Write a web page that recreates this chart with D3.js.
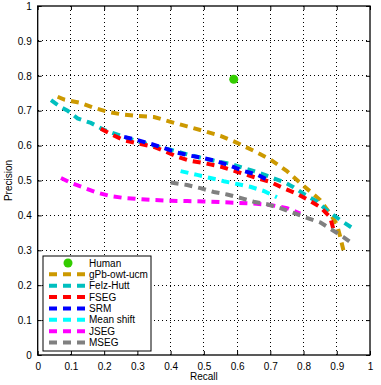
<!DOCTYPE html>
<html><head><meta charset="utf-8">
<script src="https://cdn.jsdelivr.net/npm/d3@7"></script>
<style>
body{margin:0;background:#fff;}
text{font-family:"Liberation Sans",Arial,sans-serif;}
</style></head>
<body><svg id="c" width="381" height="385"></svg>
<script>
const ticks = [0,0.1,0.2,0.3,0.4,0.5,0.6,0.7,0.8,0.9,1];
const tickLabels = ["0","0.1","0.2","0.3","0.4","0.5","0.6","0.7","0.8","0.9","1"];

const humanR = [0.59];
const humanP = [0.79];

const gpbR = [0.06,0.08,0.10,0.13,0.17,0.21,0.25,0.30,0.35,0.40,0.45,0.50,0.55,0.60,0.65,0.70,0.75,0.80,0.85,0.88,0.90,0.91,0.92];
const gpbP = [0.74,0.732,0.728,0.722,0.708,0.697,0.69,0.685,0.682,0.668,0.655,0.642,0.628,0.608,0.585,0.56,0.527,0.485,0.444,0.405,0.375,0.34,0.30];

const felzR = [0.04,0.07,0.09,0.12,0.16,0.20,0.25,0.30,0.35,0.40,0.45,0.50,0.55,0.58,0.62,0.66,0.70,0.74,0.77,0.80,0.84,0.87,0.91,0.95];
const felzP = [0.73,0.71,0.70,0.678,0.665,0.645,0.628,0.612,0.60,0.588,0.575,0.563,0.553,0.548,0.536,0.524,0.51,0.496,0.481,0.462,0.44,0.415,0.387,0.362];

const fsegR = [0.19,0.22,0.26,0.30,0.35,0.38,0.42,0.46,0.50,0.55,0.60,0.65,0.70,0.74,0.78,0.82,0.85,0.88,0.89];
const fsegP = [0.648,0.633,0.615,0.607,0.596,0.585,0.568,0.556,0.55,0.54,0.525,0.51,0.496,0.478,0.462,0.441,0.424,0.395,0.36];

const srmR = [0.26,0.30,0.34,0.38,0.42,0.46,0.50,0.54,0.58,0.62,0.66,0.70];
const srmP = [0.625,0.616,0.605,0.593,0.58,0.571,0.564,0.555,0.542,0.527,0.517,0.498];

const msR = [0.43,0.48,0.52,0.56,0.60,0.64,0.68,0.72];
const msP = [0.527,0.516,0.507,0.498,0.49,0.482,0.47,0.452];

const jsegR = [0.07,0.10,0.14,0.18,0.22,0.26,0.30,0.35,0.40,0.45,0.50,0.55,0.60,0.65,0.70,0.75,0.79];
const jsegP = [0.507,0.493,0.479,0.465,0.455,0.45,0.447,0.444,0.442,0.441,0.44,0.438,0.436,0.434,0.43,0.421,0.405];

const msegR = [0.40,0.45,0.49,0.53,0.57,0.61,0.65,0.69,0.73,0.77,0.81,0.85,0.88,0.92,0.95];
const msegP = [0.494,0.487,0.478,0.467,0.46,0.45,0.439,0.432,0.421,0.407,0.393,0.38,0.362,0.338,0.317];

const seriesNames = ["gPb-owt-ucm","Felz-Hutt","FSEG","SRM","Mean shift","JSEG","MSEG"];
const seriesColors = ["#cc9900","#00bfbf","#ff0000","#0000ff","#00ffff","#ff00ff","#808080"];
const seriesR = [gpbR,felzR,fsegR,srmR,msR,jsegR,msegR];
const seriesP = [gpbP,felzP,fsegP,srmP,msP,jsegP,msegP];

const svg = d3.select("#c");
const L=37.7, R=370, T=6, B=355;
const x = d3.scaleLinear().domain([0,1]).range([L,R]);
const y = d3.scaleLinear().domain([0,1]).range([B,T]);

// grid
const g = svg.append("g");
g.selectAll(".vg").data(ticks.slice(1,-1)).enter().append("line")
  .attr("x1",d=>x(d)).attr("x2",d=>x(d)).attr("y1",T).attr("y2",B)
  .attr("stroke","#000").attr("stroke-width",1).attr("stroke-dasharray","1,3").attr("shape-rendering","crispEdges");
g.selectAll(".hg").data(ticks.slice(1,-1)).enter().append("line")
  .attr("y1",d=>y(d)).attr("y2",d=>y(d)).attr("x1",L).attr("x2",R)
  .attr("stroke","#000").attr("stroke-width",1).attr("stroke-dasharray","1,3").attr("shape-rendering","crispEdges");

// axes
const xa = svg.append("g").attr("transform",`translate(0,${B})`)
  .call(d3.axisBottom(x).tickValues(ticks).tickFormat((d,i)=>tickLabels[i]).tickSize(-4).tickPadding(8));
const ya = svg.append("g").attr("transform",`translate(${L},0)`)
  .call(d3.axisLeft(y).tickValues(ticks).tickFormat((d,i)=>tickLabels[i]).tickSize(-4).tickPadding(6));
svg.append("g").attr("transform",`translate(0,${T})`)
  .call(d3.axisTop(x).tickValues(ticks).tickFormat("").tickSize(-4));
svg.append("g").attr("transform",`translate(${R},0)`)
  .call(d3.axisRight(y).tickValues(ticks).tickFormat("").tickSize(-4));
svg.selectAll(".domain").remove();
svg.selectAll(".tick line").attr("stroke","#000");
svg.selectAll(".tick text").attr("font-size",10).attr("fill","#000");
svg.append("rect").attr("x",L).attr("y",T).attr("width",R-L).attr("height",B-T)
  .attr("fill","none").attr("stroke","#000").attr("stroke-width",1.3);

// curves
const line = d3.line().x(d=>x(d[0])).y(d=>y(d[1]));
seriesNames.forEach((n,i)=>{
  const pts = seriesR[i].map((r,j)=>[r,seriesP[i][j]]);
  svg.append("path").attr("d",line(pts)).attr("fill","none")
    .attr("stroke",seriesColors[i]).attr("stroke-width",4)
    .attr("stroke-dasharray","8,6");
});

// human
svg.selectAll(".hum").data(humanR).enter().append("circle")
  .attr("cx",(d)=>x(d)).attr("cy",(d,i)=>y(humanP[i])).attr("r",4.5).attr("fill","#33cc00");

// labels
svg.append("text").attr("x",(L+R)/2).attr("y",380).attr("text-anchor","middle").attr("font-size",10).text("Recall");
svg.append("text").attr("transform",`translate(12,${(T+B)/2}) rotate(-90)`).attr("text-anchor","middle").attr("font-size",10).text("Precision");

// legend
const lg = svg.append("g");
lg.append("rect").attr("x",43).attr("y",256).attr("width",108).attr("height",95)
  .attr("fill","#fff").attr("stroke","#000").attr("stroke-width",1);
const ly = d3.scaleLinear().domain([0,7]).range([263,342.5]);
lg.append("circle").attr("cx",68).attr("cy",ly(0)).attr("r",4.5).attr("fill","#33cc00");
lg.append("text").attr("x",89).attr("y",ly(0)+3.5).attr("font-size",10).text("Human");
seriesNames.forEach((n,i)=>{
  lg.append("line").attr("x1",49).attr("x2",86).attr("y1",ly(i+1)).attr("y2",ly(i+1))
    .attr("stroke",seriesColors[i]).attr("stroke-width",4).attr("stroke-dasharray","8,6");
  lg.append("text").attr("x",89).attr("y",ly(i+1)+3.5).attr("font-size",10).text(n);
});
</script></body></html>
